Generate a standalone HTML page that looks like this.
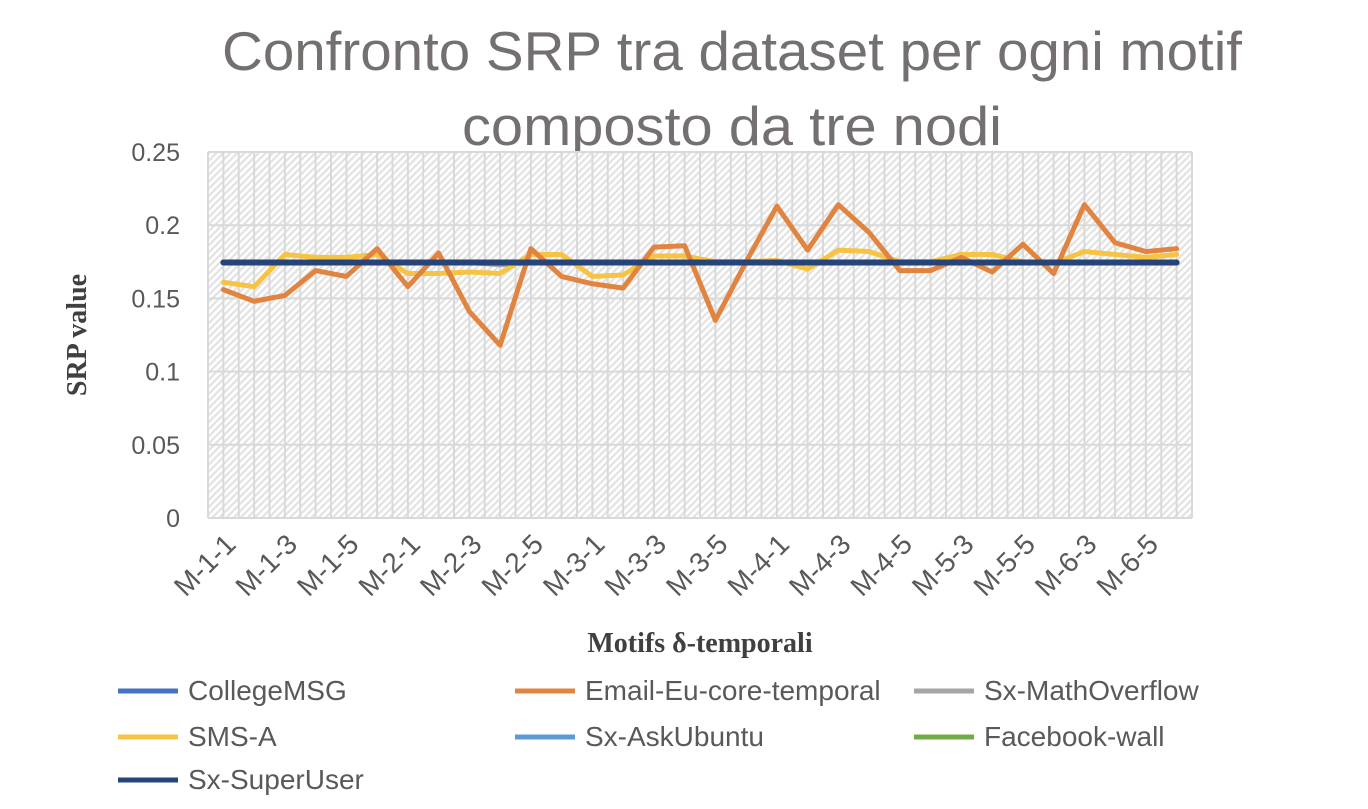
<!DOCTYPE html>
<html><head><meta charset="utf-8"><style>
body{margin:0;background:#fff;width:1368px;height:804px;overflow:hidden;font-family:"Liberation Sans",sans-serif}
</style></head><body>
<svg width="1368" height="804">
<defs><pattern id="hatch" width="5" height="5" patternUnits="userSpaceOnUse" patternTransform="rotate(45)"><rect width="5" height="5" fill="#fff"/><rect width="2.2" height="5" fill="#e2e2e2"/></pattern></defs>
<text x="732" y="70" text-anchor="middle" font-size="55" fill="#757070" textLength="1020" lengthAdjust="spacingAndGlyphs">Confronto SRP tra dataset per ogni motif</text>
<text x="732" y="145" text-anchor="middle" font-size="55" fill="#757070" textLength="540" lengthAdjust="spacingAndGlyphs">composto da tre nodi</text>
<rect x="208" y="152" width="984" height="366" fill="url(#hatch)"/>
<g id="grid"></g><g id="yt"></g><g id="xt"></g><g id="lines"></g><g id="legend"></g>
<text transform="translate(86,335) rotate(-90)" text-anchor="middle" font-family="Liberation Serif" font-weight="bold" font-size="28" fill="#404040">SRP value</text>
<text x="700" y="652" text-anchor="middle" font-family="Liberation Serif" font-weight="bold" font-size="28" fill="#404040">Motifs δ-temporali</text>
</svg>
<script>
const categories=["M-1-1","M-1-2","M-1-3","M-1-4","M-1-5","M-1-6","M-2-1","M-2-2","M-2-3","M-2-4","M-2-5","M-2-6","M-3-1","M-3-2","M-3-3","M-3-4","M-3-5","M-3-6","M-4-1","M-4-2","M-4-3","M-4-4","M-4-5","M-4-6","M-5-3","M-5-4","M-5-5","M-5-6","M-6-3","M-6-4","M-6-5","M-6-6"];
const yTicks=[0,0.05,0.1,0.15,0.2,0.25];
const yTickLabels=["0","0.05","0.1","0.15","0.2","0.25"];
const emailVals=[0.156,0.148,0.152,0.169,0.165,0.184,0.158,0.181,0.141,0.118,0.184,0.165,0.160,0.157,0.185,0.186,0.135,0.175,0.213,0.183,0.214,0.195,0.169,0.169,0.178,0.168,0.187,0.167,0.214,0.188,0.182,0.184];
const smsVals=[0.161,0.158,0.180,0.178,0.178,0.180,0.167,0.167,0.168,0.167,0.180,0.180,0.165,0.166,0.179,0.179,0.175,0.175,0.176,0.170,0.183,0.182,0.175,0.175,0.180,0.180,0.175,0.174,0.182,0.180,0.178,0.180];
const flatVals=categories.map(()=>0.1745);
const grayVals=[0.1745,0.1745,0.1745,0.1745,0.1745,0.1745,0.1745,0.1745,0.1745,0.173,0.1745,0.1745,0.1745,0.1745,0.1745,0.1745,0.1745,0.1745,0.1745,0.1745,0.1745,0.1745,0.1745,0.1745,0.1745,0.1745,0.1745,0.1745,0.1745,0.1745,0.1745,0.1745];
const seriesNames=["CollegeMSG","Email-Eu-core-temporal","Sx-MathOverflow","SMS-A","Sx-AskUbuntu","Facebook-wall","Sx-SuperUser"];
const seriesColors=["#4472c4","#e0843f","#a5a5a5","#f6c344","#5b9bd5","#70ad47","#264478"];
const seriesData=[flatVals,emailVals,grayVals,smsVals,flatVals,flatVals,flatVals];
const NS="http://www.w3.org/2000/svg";
const L=208,R=1192,T=152,B=518;
const step=(R-L)/categories.length;
const xs=i=>L+step*(i+0.5);
const ys=v=>B-(v/0.25)*(B-T);
function mk(tag,attrs,parent){const e=document.createElementNS(NS,tag);for(const k in attrs)e.setAttribute(k,attrs[k]);document.getElementById(parent).appendChild(e);return e;}
for(let k=0;k<=categories.length*2;k++){const x=L+k*step/2;
const g=mk('line',{x1:x,x2:x,y1:T,y2:B,stroke:'#d9d9d9','stroke-width':2},'grid');

}
yTicks.forEach((v,i)=>{const y=ys(v);
const g=mk('line',{x1:L,x2:R,y1:y,y2:y,stroke:'#d9d9d9','stroke-width':2},'grid');


const t=mk('text',{x:180,y:y+9,'text-anchor':'end','font-size':25,fill:'#595959'},'yt');t.textContent=yTickLabels[i];

});
categories.forEach((c,i)=>{if(i%2)return;const x=xs(i)+14,y=546;
const t=mk('text',{x:x,y:y,'text-anchor':'end','font-size':28,fill:'#595959',transform:`rotate(-45 ${x} ${y})`},'xt');t.textContent=c;

});
const order=[0,2,4,5,3,1,6];
order.forEach(s=>{const pts=seriesData[s].map((v,i)=>xs(i)+','+ys(v)).join(' ');
const p=mk('polyline',{points:pts,fill:'none',stroke:seriesColors[s],'stroke-width':s==6?6:5,'stroke-linejoin':'round','stroke-linecap':'round'},'lines');

});
const lx=[118,515,914],ly=[700,746,789];
seriesNames.forEach((n,s)=>{const x=lx[s%3],y=ly[Math.floor(s/3)];
const l=mk('line',{x1:x,x2:x+60,y1:y-9,y2:y-9,stroke:seriesColors[s],'stroke-width':5},'legend');


const t=mk('text',{x:x+70,y:y,'font-size':28,fill:'#595959'},'legend');t.textContent=n;

});
</script>
</body></html>
